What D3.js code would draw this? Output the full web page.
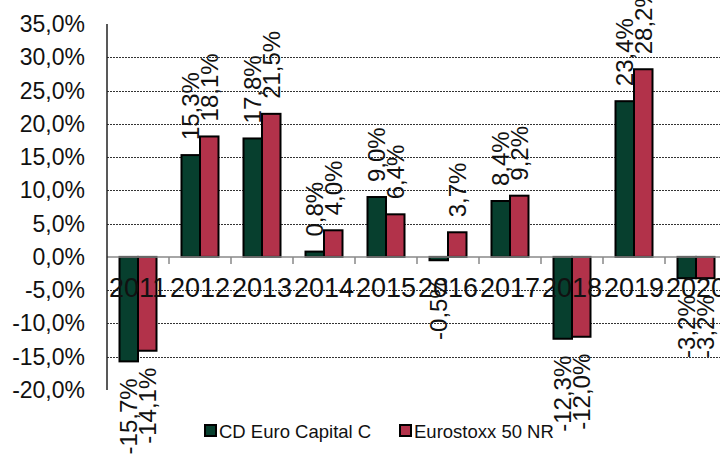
<!DOCTYPE html>
<html>
<head>
<meta charset="utf-8">
<script src="https://cdn.jsdelivr.net/npm/d3@7"></script>
<style>
  body { margin: 0; background: #fff; }
  svg { display: block; font-family: "Liberation Sans", Arial, sans-serif; }
</style>
</head>
<body>
<svg width="720" height="459"></svg>
<script>
var years = ['2011', '2012', '2013', '2014', '2015', '2016', '2017', '2018', '2019', '2020'],
    seriesNames = ['CD Euro Capital C', 'Eurostoxx 50 NR'],
    fund = [-15.7, 15.3, 17.8, 0.8, 9.0, -0.5, 8.4, -12.3, 23.4, -3.2],
    index = [-14.1, 18.1, 21.5, 4.0, 6.4, 3.7, 9.2, -12.0, 28.2, -3.2],
    yTicks = [-20, -15, -10, -5, 0, 5, 10, 15, 20, 25, 30, 35],
    colors = ['#073f2e', '#b2324a'];

var svg = d3.select('svg'),
    locale = d3.formatLocale({decimal: ',', thousands: '.', grouping: [3], currency: ['', ''], minus: '-'}),
    fmt = locale.format('.1f'),
    plotLeft = 107,
    plotTop = 24,
    plotBottom = 390;

var y = d3.scaleLinear().domain([-20, 35]).range([plotBottom, plotTop]);
var x = d3.scaleBand().domain(years).range([plotLeft, plotLeft + 62 * years.length]);
var xs = d3.scaleBand().domain([0, 1]).range([12.5, 49.5]);

var rows = [];
for (var i = 0, l = years.length; i < l; i++) {
    rows.push({year: years[i], s: 0, v: fund[i]});
    rows.push({year: years[i], s: 1, v: index[i]});
}

// grid lines
svg.append('g')
    .selectAll('line')
    .data(yTicks.filter(function (t) { return t > -20 && t < 35 && t !== 0; }))
    .join('line')
    .attr('x1', plotLeft)
    .attr('x2', 720)
    .attr('y1', function (d) { return Math.round(y(d)) + 0.5; })
    .attr('y2', function (d) { return Math.round(y(d)) + 0.5; })
    .attr('stroke', '#333')
    .attr('stroke-width', 1)
    .attr('stroke-dasharray', '2,1');

// y labels
svg.append('g')
    .selectAll('text')
    .data(yTicks)
    .join('text')
    .attr('x', 85)
    .attr('y', function (d) { return y(d); })
    .attr('text-anchor', 'end')
    .attr('dominant-baseline', 'central')
    .attr('font-size', 23)
    .attr('fill', '#111')
    .text(function (d) { return fmt(d) + '%'; });

// bars
svg.append('g')
    .selectAll('rect')
    .data(rows)
    .join('rect')
    .attr('x', function (d) { return x(d.year) + xs(d.s); })
    .attr('width', xs.bandwidth())
    .attr('y', function (d) { return y(Math.max(0, d.v)); })
    .attr('height', function (d) { return Math.abs(y(d.v) - y(0)); })
    .attr('fill', function (d) { return colors[d.s]; })
    .attr('stroke', '#000')
    .attr('stroke-width', 2);

// zero line and category ticks
svg.append('line')
    .attr('x1', plotLeft).attr('x2', 720)
    .attr('y1', y(0)).attr('y2', y(0))
    .attr('stroke', '#888').attr('stroke-width', 1.5);

svg.append('g')
    .selectAll('line')
    .data(years.slice(1))
    .join('line')
    .attr('x1', function (d) { return x(d); })
    .attr('x2', function (d) { return x(d); })
    .attr('y1', y(0))
    .attr('y2', y(0) + 7)
    .attr('stroke', '#888')
    .attr('stroke-width', 1.5);

// y axis line
svg.append('line')
    .attr('x1', plotLeft).attr('x2', plotLeft)
    .attr('y1', plotTop).attr('y2', plotBottom)
    .attr('stroke', '#222').attr('stroke-width', 1.5);

// category labels
svg.append('g')
    .selectAll('text')
    .data(years)
    .join('text')
    .attr('x', function (d) { return x(d) + x.bandwidth() / 2; })
    .attr('y', 288)
    .attr('text-anchor', 'middle')
    .attr('dominant-baseline', 'central')
    .attr('font-size', 27)
    .attr('fill', '#111')
    .text(function (d) { return d; });

// value labels
svg.append('g')
    .selectAll('text')
    .data(rows)
    .join('text')
    .attr('transform', function (d) {
        var cx = x(d.year) + xs(d.s) + xs.bandwidth() / 2,
            cy = d.v >= 0 ? y(d.v) - 15 : y(d.v) + 17;
        return 'translate(' + cx + ',' + cy + ') rotate(-90)';
    })
    .attr('text-anchor', function (d) { return d.v >= 0 ? 'start' : 'end'; })
    .attr('dominant-baseline', 'central')
    .attr('font-size', 24)
    .attr('fill', '#111')
    .text(function (d) { return fmt(d.v) + '%'; });

// legend
var legendX = [205, 400];
var legend = svg.append('g')
    .selectAll('g')
    .data(seriesNames)
    .join('g')
    .attr('transform', function (d, i) { return 'translate(' + legendX[i] + ',431)'; });

legend.append('rect')
    .attr('x', 0).attr('y', -6)
    .attr('width', 11).attr('height', 11)
    .attr('fill', function (d, i) { return colors[i]; })
    .attr('stroke', '#000')
    .attr('stroke-width', 2);

legend.append('text')
    .attr('x', 14)
    .attr('y', 0)
    .attr('dominant-baseline', 'central')
    .attr('font-size', 18.5)
    .attr('fill', '#111')
    .text(function (d) { return d; });
</script>
</body>
</html>
